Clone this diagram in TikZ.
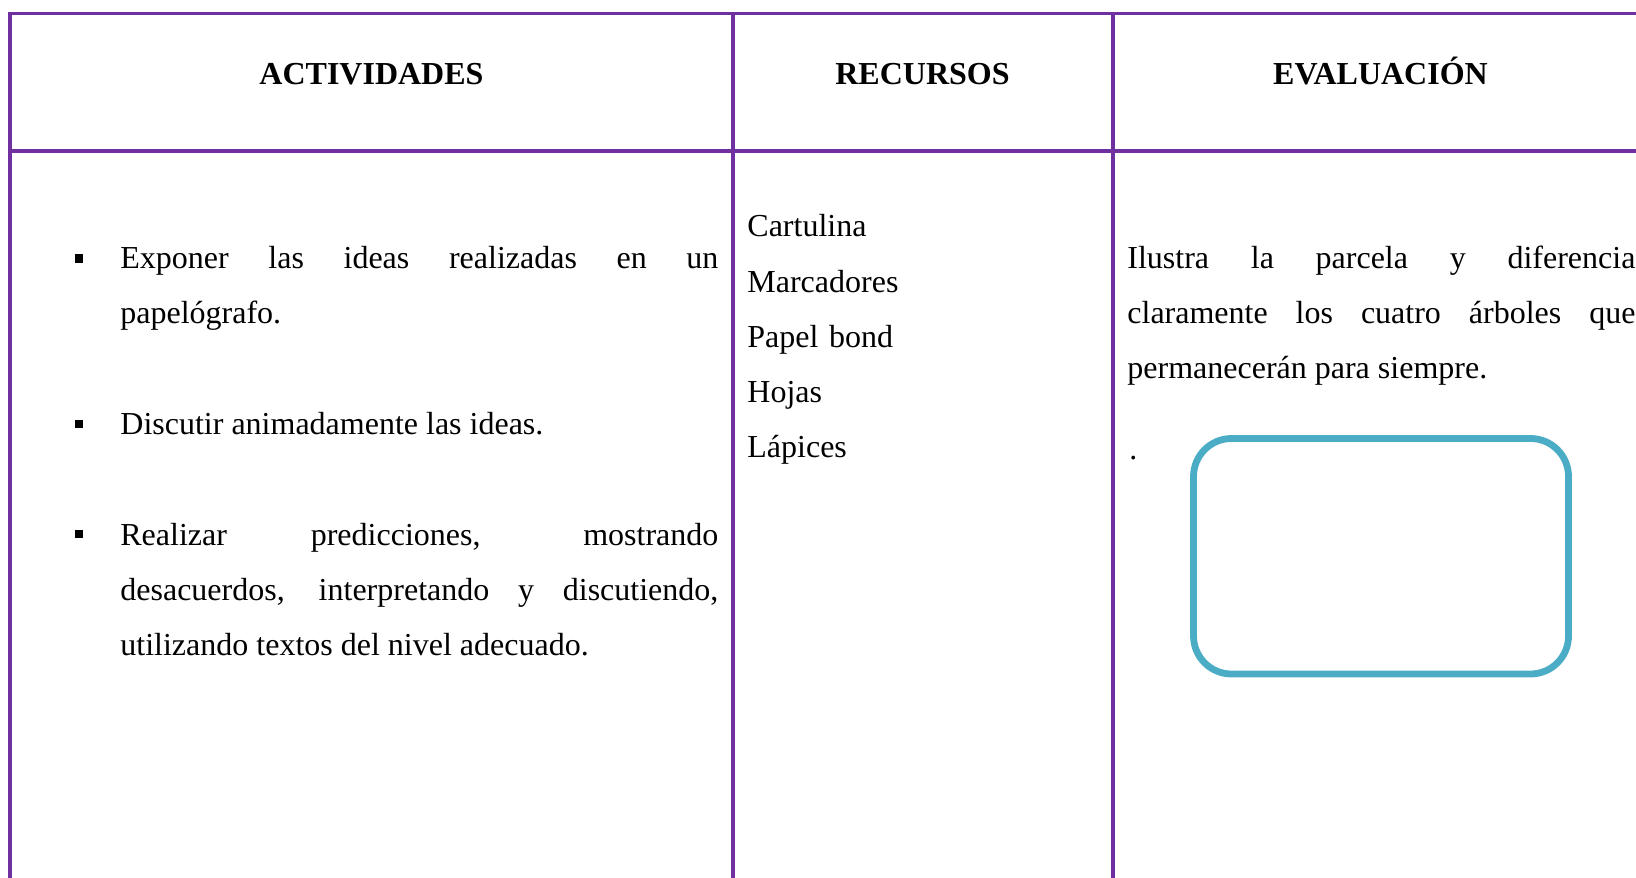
\documentclass[tikz,border=0pt]{standalone}
\usepackage{fontspec}
\setmainfont{Liberation Serif}
\usetikzlibrary{positioning}
\definecolor{lila}{HTML}{7030A0}
\definecolor{celeste}{HTML}{4BACC6}
\tolerance=10000
\hbadness=10000

\begin{document}
\begin{tikzpicture}[x=0.5pt,y=-0.5pt]
    \tikzset{Borde/.style= {draw=lila, line width=1.8pt},
      Titulo/.style = {font=\fontsize{16}{27.65}\selectfont\bfseries,
        anchor=base, inner sep=0},
      Texto/.style = {font=\fontsize{16}{27.65}\selectfont,
        anchor=base west, inner sep=0, align=justify},
      Vineta/.style = {fill, inner sep=0, minimum size=4.4pt}}
    \useasboundingbox (0,0) rectangle (1636,877);
    \clip (0,0) rectangle (1636,877);
    \coordinate (A1) at (10,13.7);
    \coordinate (A2) at (733,13.7);
    \coordinate (A3) at (1113,13.7);
    \coordinate (A4) at (1700,13.7);
    \coordinate (B1) at (10,151);
    \coordinate (B4) at (1700,151);
    \coordinate (C1) at (10,900);
    \coordinate (C2) at (733,900);
    \coordinate (C3) at (1113,900);
    \draw[Borde] (C1) -- (A1) -- (A4);
    \draw[Borde] (B1) -- (B4);
    \draw[Borde] (A2) -- (C2);
    \draw[Borde] (A3) -- (C3);
    \node[Titulo] (act) at (371.5,85) {ACTIVIDADES};
    \node[Titulo] (rec) at (922.5,85) {RECURSOS};
    \node[Titulo] (eva) at (1380.5,85) {EVALUACIÓN};
    \node[Vineta] (v1) at (79,258.5) {};
    \node[Texto, text width=299pt] (act1) at (120,268) {Exponer las ideas realizadas en un\linebreak papelógrafo.};
    \node[Vineta] (v2) at (79,424) {};
    \node[Texto, text width=299pt] (act2) at (120,434) {Discutir animadamente las ideas.};
    \node[Vineta] (v3) at (79,534) {};
    \node[Texto, text width=299pt] (act3) at (120,545) {Realizar predicciones, mostrando\linebreak desacuerdos, interpretando y discutiendo,\linebreak utilizando textos del nivel adecuado.};
    \node[Texto, text width=170pt, align=left] (rec1) at (747,236.7) {Cartulina\\Marcadores\\Papel bond\\Hojas\\Lápices};
    \node[Texto, text width=254pt] (eva1) at (1127,268) {Ilustra la parcela y diferencia\linebreak claramente los cuatro árboles que\linebreak permanecerán para siempre.};
    \node[Texto] (punto) at (1129,459) {.};
    \draw[celeste, line width=3.4pt, rounded corners=19pt] (1193.5,438.5) rectangle (1568.5,674);
  \end{tikzpicture}
\end{document}
